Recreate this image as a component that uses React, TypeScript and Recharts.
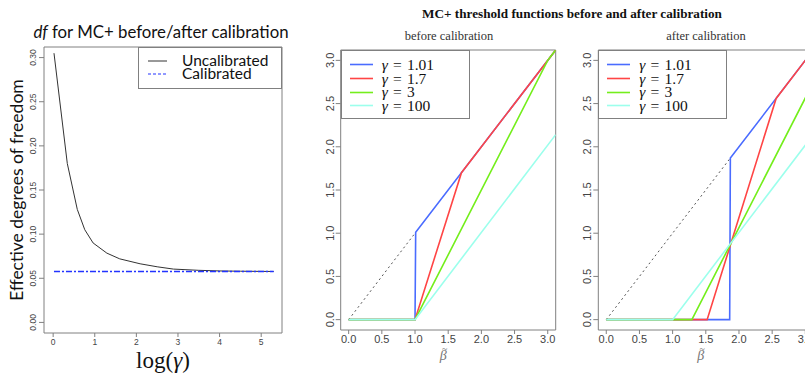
import React from 'react';
import { LineChart, Line, XAxis, YAxis, ReferenceArea, Legend, Label } from 'recharts';

// ---------- Left panel: effective degrees of freedom ----------
const LOG_GAMMA = [0.02, 0.34, 0.58, 0.76, 0.96, 1.29, 1.6, 2.09, 2.5, 2.89, 3.5, 4.0, 4.5, 5.0, 5.3];
const DF_UNCALIBRATED = [0.305, 0.18, 0.128, 0.105, 0.09, 0.0785, 0.072, 0.0664, 0.063, 0.0604, 0.059, 0.0583, 0.058, 0.0578, 0.0577];
const DF_CALIBRATED = [0.0577, 0.0577, 0.0577, 0.0577, 0.0577, 0.0577, 0.0577, 0.0577, 0.0577, 0.0577, 0.0577, 0.0577, 0.0577, 0.0577, 0.0577];
const DF_X_TICKS = [0, 1, 2, 3, 4, 5];
const DF_Y_TICKS = [0, 0.05, 0.1, 0.15, 0.2, 0.25, 0.3];
const DF_SERIES_NAMES = ['Uncalibrated', 'Calibrated'];
const DF_COLORS = ['#333333', '#2233ff'];
const DF_DASHES = [undefined, '3 2'];

// ---------- Threshold panels ----------
const BETA_TICKS = [0, 0.5, 1, 1.5, 2, 2.5, 3];
const GAMMA_LABELS = ['1.01', '1.7', '3', '100'];
const GAMMA_COLORS = ['#4a6cff', '#ff4545', '#74ee1c', '#9cffec'];

// before calibration: [beta, threshold(beta)]
const BEFORE_IDENTITY = [[0, 0], [1, 1]];
const BEFORE_G101 = [[0, 0], [1, 0], [1.01, 1.01], [3.12, 3.12]];
const BEFORE_G17 = [[0, 0], [1, 0], [1.7, 1.7], [3.12, 3.12]];
const BEFORE_G3 = [[0, 0], [1, 0], [3.0, 3.0], [3.12, 3.12]];
const BEFORE_G100 = [[0, 0], [1, 0], [3.12, 2.14]];

// after calibration
const AFTER_IDENTITY = [[0, 0], [1.87, 1.87]];
const AFTER_G101 = [[0, 0], [1.86, 0], [1.87, 1.87], [3.12, 3.12]];
const AFTER_G17 = [[0, 0], [1.52, 0], [2.56, 2.56], [3.12, 3.12]];
const AFTER_G3 = [[0, 0], [1.29, 0], [3.12, 2.745]];
const AFTER_G100 = [[0, 0], [1.0, 0], [3.12, 2.14]];

const toPts = (arr: number[][]) => arr.map(([x, y]) => ({ x, y }));

const dfData = LOG_GAMMA.map((x, i) => ({ x, unc: DF_UNCALIBRATED[i], cal: DF_CALIBRATED[i] }));

const SANS = 'Lato, "Open Sans", sans-serif';
const SERIF = '"Liberation Serif", "Times New Roman", serif';
const TICKFONT = '"Liberation Sans", Arial, sans-serif';
const BOX = '#808080';

const makeRotTick = (fontSize: number, digits: number) => (props: any) => {
  const { x, y, payload } = props;
  return (
    <text
      x={x}
      y={y}
      transform={`rotate(-90 ${x} ${y})`}
      textAnchor="middle"
      fontSize={fontSize}
      fill="#444"
      fontFamily={TICKFONT}
    >
      {Number(payload.value).toFixed(digits)}
    </text>
  );
};

const DfLegend = () => (
  <div
    style={{
      width: '100%',
      height: '100%',
      boxSizing: 'border-box',
      border: `1px solid ${BOX}`,
      background: '#fff',
      paddingTop: 6,
    }}
  >
    {DF_SERIES_NAMES.map((name, i) => (
      <div key={i} style={{ display: 'flex', alignItems: 'center', height: 13, lineHeight: '13px' }}>
        <svg width={40} height={13} style={{ flex: 'none' }}>
          <line
            x1={9}
            x2={28}
            y1={7}
            y2={7}
            stroke={DF_COLORS[i]}
            strokeWidth={1}
            strokeDasharray={DF_DASHES[i]}
          />
        </svg>
        <span style={{ fontFamily: SANS, fontSize: 15.5, color: '#111', marginLeft: 3 }}>{name}</span>
      </div>
    ))}
  </div>
);

const GammaLegend = () => (
  <div
    style={{
      width: '100%',
      height: '100%',
      boxSizing: 'border-box',
      border: `1px solid ${BOX}`,
      background: '#fff',
      paddingTop: 7,
    }}
  >
    {GAMMA_LABELS.map((label, i) => (
      <div key={i} style={{ display: 'flex', alignItems: 'center', height: 13.7, lineHeight: '13.7px' }}>
        <svg width={40} height={13} style={{ flex: 'none' }}>
          <line x1={8} x2={31} y1={6.5} y2={6.5} stroke={GAMMA_COLORS[i]} strokeWidth={1.6} />
        </svg>
        <span style={{ fontFamily: SERIF, fontSize: 15.5, color: '#111', whiteSpace: 'pre' }}>
          <i>γ</i>
          {'\u2004=\u2004'}
          {label}
        </span>
      </div>
    ))}
  </div>
);

const DfPanel = () => (
  <div style={{ position: 'absolute', left: 0, top: 0 }}>
    <LineChart width={300} height={378} data={dfData} margin={{ top: 47, right: 18, bottom: 0, left: 0 }}>
      <XAxis
        dataKey="x"
        type="number"
        domain={[-0.22, 5.5]}
        ticks={DF_X_TICKS}
        allowDataOverflow
        height={45}
        axisLine={false}
        tickSize={4}
        tickMargin={2}
        tickLine={{ stroke: BOX }}
        tick={{ fontSize: 8.5, fill: '#444', fontFamily: TICKFONT }}
      >
        <Label
          content={(p: any) => {
            const vb = p.viewBox || {};
            return (
              <text
                x={vb.x + vb.width / 2}
                y={vb.y + 35}
                textAnchor="middle"
                fontFamily={SERIF}
                fontSize={23}
                fill="#111"
              >
                log(<tspan fontStyle="italic">γ</tspan>)
              </text>
            );
          }}
        />
      </XAxis>
      <YAxis
        type="number"
        domain={[-0.012, 0.312]}
        ticks={DF_Y_TICKS}
        allowDataOverflow
        width={44}
        axisLine={false}
        tickSize={5}
        tickMargin={3}
        tickLine={{ stroke: BOX }}
        tick={makeRotTick(8.5, 2)}
      >
        <Label
          content={(p: any) => {
            const vb = p.viewBox || {};
            const cx = 23;
            const cy = vb.y + vb.height / 2;
            return (
              <text
                x={cx}
                y={cy}
                transform={`rotate(-90 ${cx} ${cy})`}
                textAnchor="middle"
                fontFamily={SANS}
                fontSize={17.5}
                fill="#111"
              >
                Effective degrees of freedom
              </text>
            );
          }}
        />
      </YAxis>
      <ReferenceArea x1={-0.22} x2={5.5} y1={-0.012} y2={0.312} fill="none" stroke={BOX} strokeWidth={1} />
      <Line
        dataKey="unc"
        name={DF_SERIES_NAMES[0]}
        stroke={DF_COLORS[0]}
        strokeWidth={1}
        dot={false}
        legendType="none"
        isAnimationActive={false}
      />
      <Line
        dataKey="cal"
        name={DF_SERIES_NAMES[1]}
        stroke={DF_COLORS[1]}
        strokeWidth={1.3}
        strokeDasharray="6 2 2 2"
        dot={false}
        legendType="none"
        isAnimationActive={false}
      />
      <Legend
        layout="horizontal"
        verticalAlign="middle"
        align="center"
        wrapperStyle={{ left: 138, top: 47, width: 144, height: 42 }}
        content={DfLegend}
      />
    </LineChart>
    <div
      style={{
        position: 'absolute',
        left: 11,
        top: 21,
        width: 300,
        textAlign: 'center',
        fontFamily: SANS,
        fontSize: 16.8,
        color: '#111',
        whiteSpace: 'nowrap',
      }}
    >
      <i>df</i> for MC+ before/after calibration
    </div>
  </div>
);

type ThreshProps = {
  left: number;
  yAxisWidth: number;
  marginLeft: number;
  identity: number[][];
  series: number[][][];
};

const BetaLabel = (p: any) => {
  const vb = p.viewBox || {};
  const cx = vb.x + vb.width / 2 - 5;
  const by = vb.y + 30;
  return (
    <g>
      <text x={cx} y={by} textAnchor="middle" fontFamily={SERIF} fontStyle="italic" fontSize={14} fill="#777">
        β
      </text>
      <text x={cx + 1.5} y={by - 8.5} textAnchor="middle" fontFamily={SERIF} fontSize={10} fill="#777">
        ~
      </text>
    </g>
  );
};

const ThresholdPanel = ({ left, yAxisWidth, marginLeft, identity, series }: ThreshProps) => (
  <div style={{ position: 'absolute', left, top: 0 }}>
    <LineChart width={280} height={378} margin={{ top: 50, right: 280 - marginLeft - yAxisWidth - 215, bottom: 0, left: marginLeft }}>
      <XAxis
        dataKey="x"
        type="number"
        domain={[-0.12, 3.12]}
        ticks={BETA_TICKS}
        allowDataOverflow
        height={48}
        axisLine={false}
        tickSize={4}
        tickMargin={1}
        tickLine={{ stroke: BOX }}
        tickFormatter={(v: number) => v.toFixed(1)}
        tick={{ fontSize: 11, fill: '#444', fontFamily: TICKFONT }}
      >
        <Label content={BetaLabel} />
      </XAxis>
      <YAxis
        type="number"
        domain={[-0.12, 3.12]}
        ticks={BETA_TICKS}
        allowDataOverflow
        width={yAxisWidth}
        axisLine={false}
        tickSize={5}
        tickMargin={2}
        tickLine={{ stroke: BOX }}
        tick={makeRotTick(11, 1)}
      />
      <ReferenceArea x1={-0.12} x2={3.12} y1={-0.12} y2={3.12} fill="none" stroke={BOX} strokeWidth={1} />
      <Line
        data={toPts(identity)}
        dataKey="y"
        stroke="#555"
        strokeWidth={1}
        strokeDasharray="2 3"
        dot={false}
        legendType="none"
        isAnimationActive={false}
      />
      {series.map((s, i) => (
        <Line
          key={i}
          data={toPts(s)}
          dataKey="y"
          name={GAMMA_LABELS[i]}
          stroke={GAMMA_COLORS[i]}
          strokeWidth={1.6}
          dot={false}
          legendType="none"
          isAnimationActive={false}
        />
      ))}
      <Legend
        layout="horizontal"
        verticalAlign="middle"
        align="center"
        wrapperStyle={{ left: marginLeft + yAxisWidth, top: 50, width: 129, height: 69 }}
        content={GammaLegend}
      />
    </LineChart>
  </div>
);

export default function App() {
  return (
    <div
      style={{
        position: 'fixed',
        left: 0,
        top: 0,
        width: 805,
        height: 378,
        overflow: 'hidden',
        background: '#fff',
      }}
    >
      <DfPanel />
      <ThresholdPanel
        left={300}
        yAxisWidth={30}
        marginLeft={10.7}
        identity={BEFORE_IDENTITY}
        series={[BEFORE_G101, BEFORE_G17, BEFORE_G3, BEFORE_G100]}
      />
      <ThresholdPanel
        left={560}
        yAxisWidth={30}
        marginLeft={8.3}
        identity={AFTER_IDENTITY}
        series={[AFTER_G101, AFTER_G17, AFTER_G3, AFTER_G100]}
      />
      <div
        style={{
          position: 'absolute',
          left: 392,
          top: 6,
          width: 360,
          textAlign: 'center',
          fontFamily: SERIF,
          fontWeight: 'bold',
          fontSize: 13.2,
          color: '#111',
          whiteSpace: 'nowrap',
        }}
      >
        MC+ threshold functions before and after calibration
      </div>
      <div
        style={{
          position: 'absolute',
          left: 349,
          top: 29,
          width: 200,
          textAlign: 'center',
          fontFamily: SERIF,
          fontSize: 12.5,
          color: '#333',
        }}
      >
        before calibration
      </div>
      <div
        style={{
          position: 'absolute',
          left: 606,
          top: 29,
          width: 200,
          textAlign: 'center',
          fontFamily: SERIF,
          fontSize: 12.5,
          color: '#333',
        }}
      >
        after calibration
      </div>
    </div>
  );
}
